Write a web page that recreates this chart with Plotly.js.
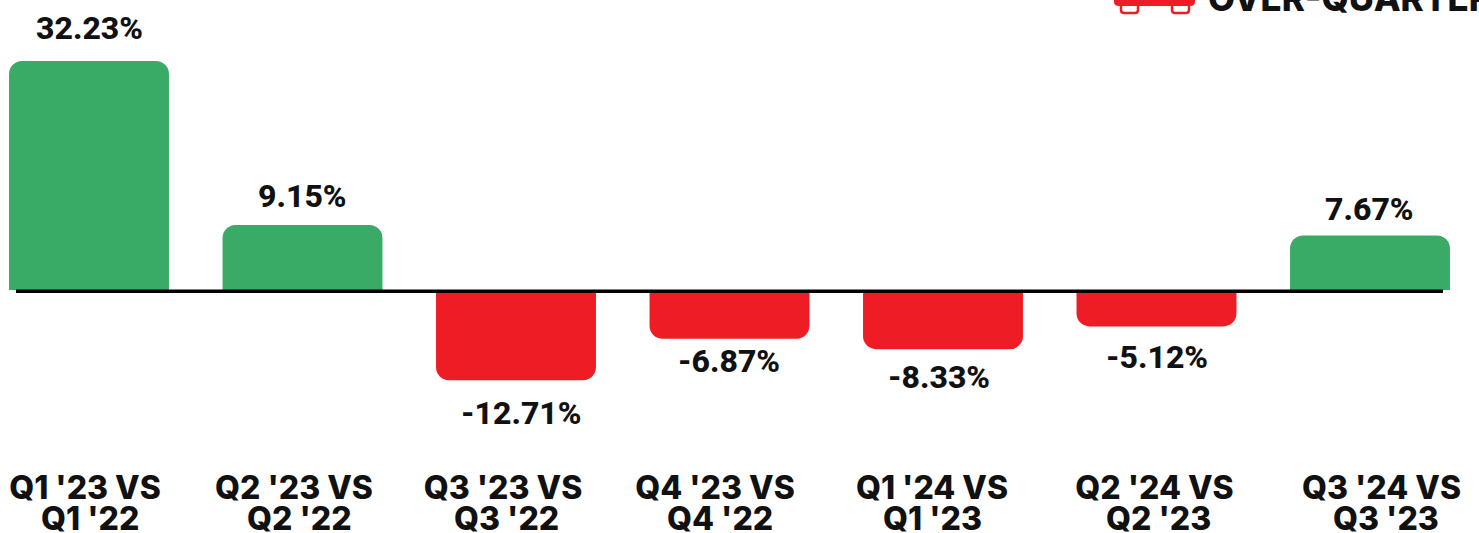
<!DOCTYPE html>
<html><head><meta charset="utf-8">
<script src="https://cdn.plot.ly/plotly-3.0.1.min.js"></script>
<style>html,body{margin:0;padding:0;background:#fff;overflow:hidden}</style>
</head><body><div id="chart" style="width:1479px;height:533px"></div>
<script>
const lineOne = ["Q1 '23 VS","Q2 '23 VS","Q3 '23 VS","Q4 '23 VS","Q1 '24 VS","Q2 '24 VS","Q3 '24 VS"];
const lineTwo = ["Q1 '22","Q2 '22","Q3 '22","Q4 '22","Q1 '23","Q2 '23","Q3 '23"];
const changes = [32.23,9.15,-12.71,-6.87,-8.33,-5.12,7.67];
const valueLabels = ["32.23%","9.15%","-12.71%","-6.87%","-8.33%","-5.12%","7.67%"];
const legendText = "OVER-QUARTERLY";

const W=1479,H=533,MB=68,plotH=H-MB;
const GREEN="#39AB67",RED="#EE1D25";
const ZERO=290,SCALE=7.105,X0=89,PITCH=213.5;
const px=x=>x/W, py=y=>(plotH-y)/plotH, xAt=p=>(p-X0)/PITCH;
const labelShift=[33,29,-33,-22,-28,-31,27];
const labelNudge=[0,0,5,-1,-4,0,-1];
const lineOneAt=[85,294,503,715,932,1154.5,1381.5];
const lineTwoAt=[89.5,299,506.5,720,932,1158,1385.5];
const positions=changes.map((_,i)=>i);
const catFont={family:'Inter',size:32,color:'#111111',weight:800};
const trace={type:'bar',x:positions,y:changes,width:0.749,
  marker:{color:changes.map(v=>v>=0?GREEN:RED),line:{width:0}},hoverinfo:'x+y',cliponaxis:false};
const annotations=changes.map((v,i)=>({x:i,y:v,xref:'x',yref:'y',text:valueLabels[i],showarrow:false,
  xanchor:'center',yanchor:'middle',yshift:labelShift[i],xshift:labelNudge[i],
  font:{family:'Roboto',size:32,color:'#111111',weight:800}}));
lineTwo.forEach((t,i)=>annotations.push({xref:'x',yref:'paper',x:xAt(lineTwoAt[i]),y:py(518),text:t,showarrow:false,
  xanchor:'center',yanchor:'middle',height:28,valign:'middle',font:catFont}));
annotations.push({xref:'paper',yref:'paper',x:px(1206),y:py(21),xanchor:'left',yanchor:'bottom',showarrow:false,
  text:legendText,font:{family:'Inter',size:35,color:'#111111',weight:800}});
const foot=(a,b)=>({type:'path',xref:'paper',yref:'paper',layer:'above',
  path:`M${px(a)},${py(2)} L${px(a)},${py(10)} Q${px(a)},${py(13)} ${px(a+3)},${py(13)} L${px(b-3)},${py(13)} Q${px(b)},${py(13)} ${px(b)},${py(10)} L${px(b)},${py(2)}`,
  line:{color:RED,width:2.5},fillcolor:'rgba(0,0,0,0)'});
const shapes=[
 {type:'line',xref:'paper',yref:'y',x0:px(16),x1:px(1443),y0:-1.3/SCALE,y1:-1.3/SCALE,line:{color:'#000',width:3.6},layer:'above'},
 {type:'path',xref:'paper',yref:'paper',layer:'above',fillcolor:RED,line:{width:0},
  path:`M${px(1114)},${py(0)} L${px(1114)},${py(2)} Q${px(1114)},${py(6)} ${px(1119)},${py(6)} L${px(1190)},${py(6)} Q${px(1195)},${py(6)} ${px(1195)},${py(2)} L${px(1195)},${py(0)} Z`},
 foot(1121,1138),foot(1172,1189)
];
const layout={width:W,height:H,autosize:false,showlegend:false,paper_bgcolor:'#fff',plot_bgcolor:'#fff',
 margin:{l:0,r:0,t:0,b:MB,pad:0},barcornerradius:13,
 xaxis:{range:[-X0/PITCH,(W-X0)/PITCH],tickmode:'array',tickvals:lineOneAt.map(xAt),ticktext:lineOne,
   tickfont:catFont,tickangle:0,ticks:'',showgrid:false,zeroline:false,showline:false,automargin:false,ticklabelstandoff:1},
 yaxis:{range:[-(plotH-ZERO)/SCALE,ZERO/SCALE],visible:false,showgrid:false,zeroline:false,fixedrange:true},
 annotations,shapes};
Plotly.newPlot('chart',[trace],layout,{displayModeBar:false,responsive:false});
</script></body></html>
